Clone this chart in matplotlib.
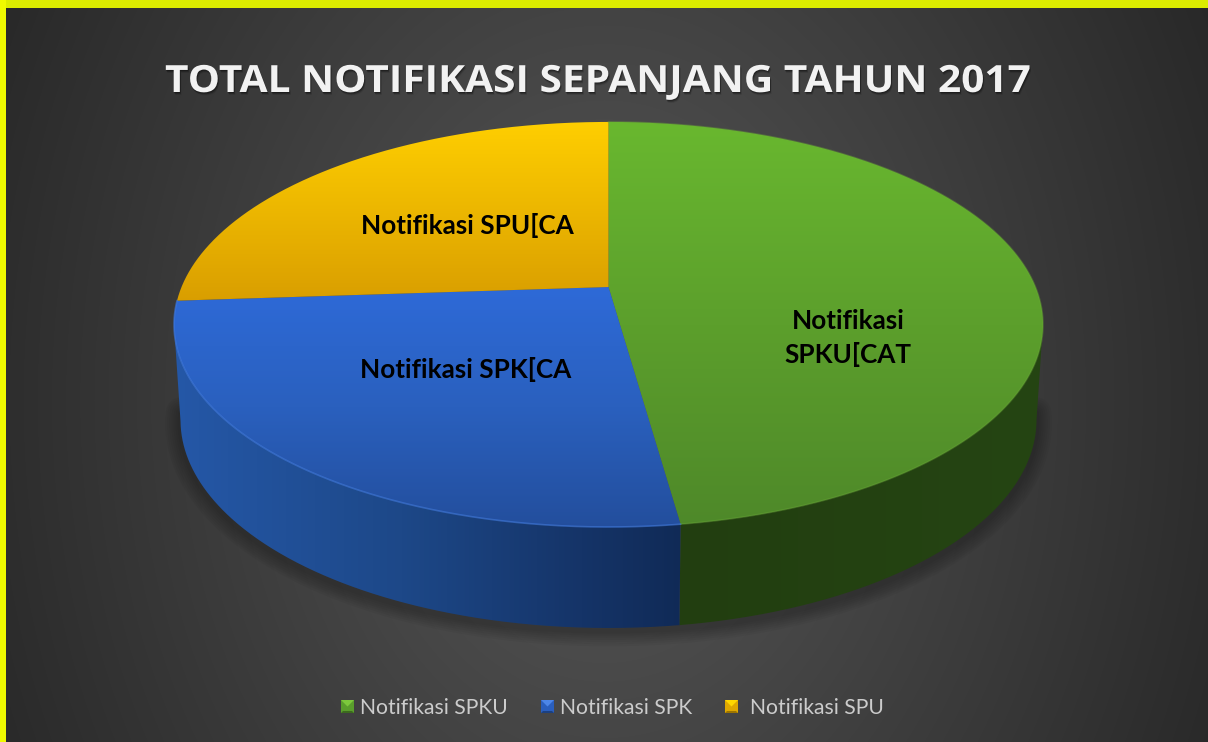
import numpy as np
import matplotlib
matplotlib.use("Agg")
import matplotlib.pyplot as plt
from matplotlib.path import Path
from matplotlib.patches import PathPatch, Polygon, Rectangle
from matplotlib.transforms import Affine2D
import matplotlib.patheffects as pe

title = "TOTAL NOTIFIKASI SEPANJANG TAHUN 2017"
categories = ["Notifikasi SPKU", "Notifikasi SPK", "Notifikasi SPU"]
values = [47.8, 26.1, 26.1]
slice_labels = ["Notifikasi\nSPKU[CAT", "Notifikasi SPK[CA", "Notifikasi SPU[CA"]

W, H = 1208, 742
fig = plt.figure(figsize=(W / 100, H / 100), dpi=100)
ax = fig.add_axes([0, 0, 1, 1])
ax.set_axis_off()


def hexrgb(c):
    return np.array(matplotlib.colors.to_rgb(c))


def grad_image(path, extent, stops, horizontal=False, zorder=2):
    x0, x1, y0, y1 = extent
    n = 512
    pos = np.array([s[0] for s in stops])
    cols = np.array([hexrgb(s[1]) for s in stops])
    t = np.linspace(0, 1, n)
    arr = np.stack([np.interp(t, pos, cols[:, i]) for i in range(3)], axis=-1)
    arr = arr[None, :, :] if horizontal else arr[:, None, :]
    im = ax.imshow(arr, extent=(x0, x1, y1, y0), origin="upper", aspect="auto",
                   zorder=zorder, interpolation="bilinear")
    patch = PathPatch(path, transform=ax.transData, facecolor="none", edgecolor="none")
    ax.add_patch(patch)
    im.set_clip_path(patch)
    return im


class WideShadowText(pe.AbstractPathEffect):
    """Widen the glyph run horizontally and give it a soft drop shadow."""

    def __init__(self, sx):
        super().__init__()
        self.sx = sx

    def draw_path(self, renderer, gc, tpath, affine, rgbFace=None):
        wide = Affine2D().scale(self.sx, 1) + affine
        for off, alpha in [(3.0, 0.10), (2.0, 0.22), (1.0, 0.25)]:
            g = renderer.new_gc()
            g.copy_properties(gc)
            g.set_alpha(alpha)
            g.set_linewidth(0)
            renderer.draw_path(g, tpath, wide + Affine2D().translate(off * 0.5, -off), (0, 0, 0))
            g.restore()
        renderer.draw_path(gc, tpath, wide, rgbFace)


# background
yy, xx = np.mgrid[0:H, 0:W]
tt = np.sqrt(((xx - 604) / 680.0) ** 2 + ((yy - 400) / 900.0) ** 2)
v = np.clip(0x58 - 48 * tt, 0x26, 0x58) / 255.0
ax.imshow(np.dstack([v, v, v]), extent=(0, W, H, 0), origin="upper", aspect="auto", zorder=0)

# frame
ax.add_patch(Rectangle((0, 0), W, 8, facecolor="#DCEC00", edgecolor="none", zorder=1))
ax.add_patch(Rectangle((0, 0), 6, H, facecolor="#EFFA00", edgecolor="none", zorder=1))

# pie geometry
cx, apex_y = 608.5, 287.0
A, B, p = 427.0, 195.6, -0.185
ecy, erx, ery = 324.5, 434.5, 202.5
bcy, brx, bry = 420.0, 428.0, 208.0


def project(theta):
    x, y = np.sin(theta), -np.cos(theta)
    d = 1 + p * y
    return cx + A * x / d, apex_y + B * y / d


frac = np.array(values) / np.sum(values)
edges = np.concatenate([[0], np.cumsum(frac)]) * 2 * np.pi

top_stops = [
    [(0, "#69B82F"), (0.5, "#5C9F2C"), (1, "#4E8829")],
    [(0, "#2E6AD8"), (0.5, "#2A60BE"), (1, "#234E9C")],
    [(0, "#FFCF00"), (1, "#D99E00")],
]
top_ext = [(600, 1050, 120, 530), (170, 690, 285, 530), (170, 615, 120, 302)]
wall_stops = [
    [(0, "#223E10"), (1, "#254513")],
    [(0, "#2558A8"), (0.45, "#1D4888"), (0.8, "#153468"), (1, "#102A56")],
]
wall_ext = [(675, 1045, 300, 640), (170, 685, 300, 640)]
rim_cols = ["#6DB334", "#3F7AE0", None]
rim_alpha = [0.35, 0.6, 0]

# shadow under the pie
phi = np.linspace(-0.05, np.pi + 0.05, 300)
sx = cx + brx * np.cos(phi)
sy = bcy + 3 + bry * np.sin(phi)
for lw in np.arange(22, 2, -3):
    ax.plot(sx, sy, color="black", alpha=0.035, lw=lw, zorder=1.5, solid_capstyle="round")

# walls
for i in range(2):
    s, e = project(edges[i]), project(edges[i + 1])
    ps = np.arctan2((s[1] - ecy) / ery, (s[0] - cx) / erx) % (2 * np.pi)
    pe_ = np.arctan2((e[1] - ecy) / ery, (e[0] - cx) / erx) % (2 * np.pi)
    if pe_ < ps:
        pe_ += 2 * np.pi
    if ps > np.pi:
        ps -= 2 * np.pi
        pe_ -= 2 * np.pi
    lo, hi = max(ps, 0), min(pe_, np.pi)
    ph = np.linspace(lo, hi, 300)
    tx, ty = cx + erx * np.cos(ph), ecy + ery * np.sin(ph)
    bx, by = cx + brx * np.cos(ph), bcy + bry * np.sin(ph)
    poly = np.vstack([np.c_[tx, ty], np.c_[bx, by][::-1], [[tx[0], ty[0]]]])
    grad_image(Path(poly), wall_ext[i], wall_stops[i], horizontal=True, zorder=2)

# top faces
for i in range(3):
    th = np.linspace(edges[i], edges[i + 1], 400)
    x, y = project(th)
    poly = np.vstack([[[cx, apex_y]], np.c_[x, y], [[cx, apex_y]]])
    grad_image(Path(poly), top_ext[i], top_stops[i], zorder=3)
    if rim_cols[i]:
        ax.plot(x, y, color=rim_cols[i], lw=1.2, alpha=rim_alpha[i], zorder=3.5)

# slice labels
label_pos = [(848, 338), (466, 369), (467, 226)]
for (lx, ly), lab in zip(label_pos, slice_labels):
    ax.text(lx, ly, lab, ha="center", va="center", fontsize=18.8, fontweight="bold",
            family="Lato", color="black", zorder=5, linespacing=1.39)

# title
ax.text(165, 92, title, ha="left", va="baseline", fontsize=27, fontweight="bold",
        family="Open Sans", color="#F2F2F2", zorder=5,
        path_effects=[WideShadowText(1.084)])

# legend
leg_mark_x = [341, 541, 725]
leg_text_x = [360, 560, 750]
leg_cols = [("#7CC83C", "#5A9E2C", "#3C6A1E"), ("#4C86E8", "#2A5FBE", "#1C4080"), ("#FFD800", "#DFA800", "#9C7400")]
for mx, tx_, name, (c1, c2, c3) in zip(leg_mark_x, leg_text_x, categories, leg_cols):
    s, y0 = 13, 700
    ax.add_patch(Rectangle((mx, y0), s, s, facecolor=c2, edgecolor="none", zorder=5))
    ax.add_patch(Polygon([(mx, y0), (mx + s, y0), (mx + s / 2, y0 + s / 2)], facecolor=c1, edgecolor="none", zorder=5))
    ax.add_patch(Polygon([(mx, y0 + s), (mx + s, y0 + s), (mx + s - 2, y0 + s - 2), (mx + 2, y0 + s - 2)],
                         facecolor=c3, edgecolor="none", zorder=5))
    ax.text(tx_, 708, name, ha="left", va="center", fontsize=15.2, family="Lato", color="#CCCCCC", zorder=5)

ax.set_xlim(0, W)
ax.set_ylim(H, 0)
fig.savefig("out.png", dpi=100)
